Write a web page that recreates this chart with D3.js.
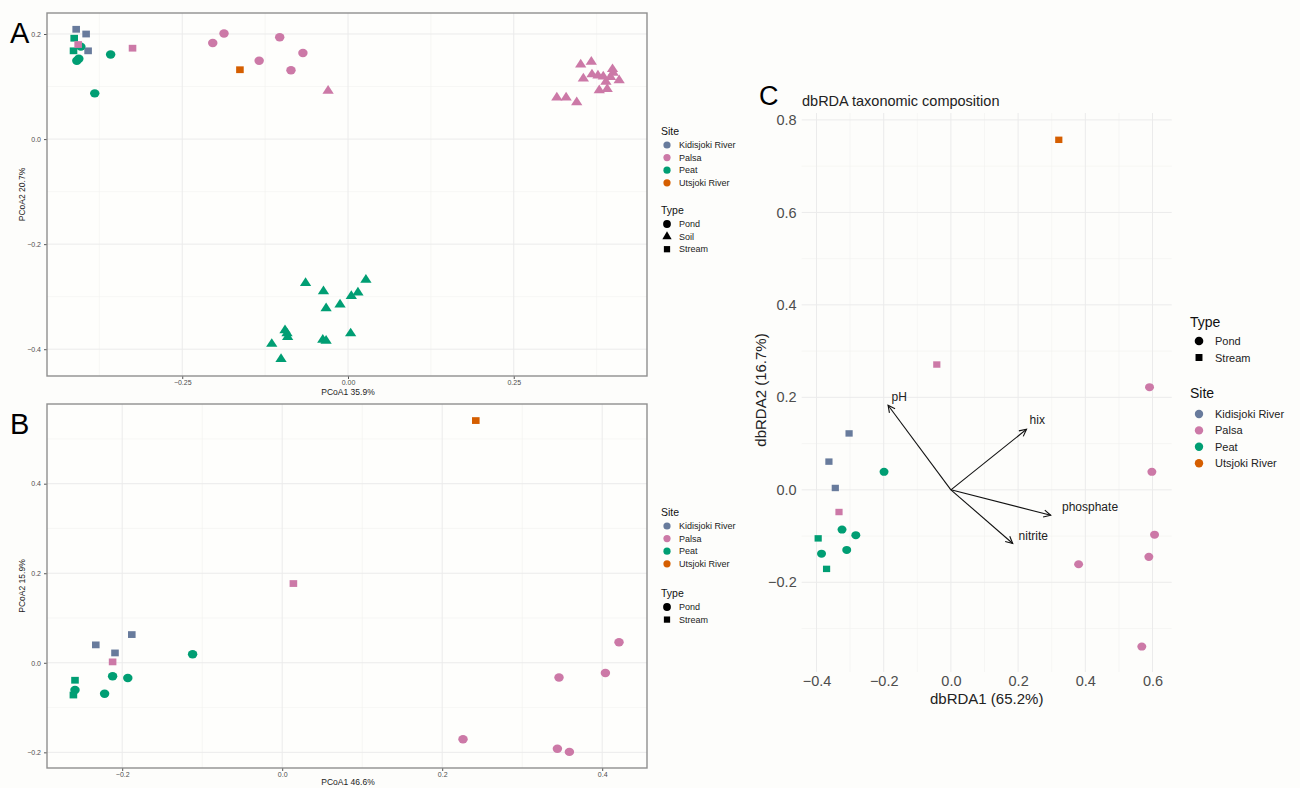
<!DOCTYPE html>
<html><head><meta charset="utf-8">
<script src="https://cdn.jsdelivr.net/npm/d3@7"></script>
<style>
body{margin:0;background:#fdfdfb;}
svg{display:block;font-family:"Liberation Sans",Arial,sans-serif;}
</style></head>
<body><svg id="c" width="1300" height="788"></svg>
<script>
// ---------- data ----------
const siteNames = ["Kidisjoki River","Palsa","Peat","Utsjoki River"];
const siteColors = ["#687b9c","#cc79a7","#009e73","#d55e00"];
const typeNamesAB = ["Pond","Soil","Stream"];
const typeNamesC = ["Pond","Stream"];

// Panel A (PCoA, all samples)
const aX = [-0.413,-0.414,-0.410,-0.395,-0.392,-0.403,-0.409,-0.406,-0.358,-0.382,-0.407,-0.325,
  -0.204,-0.187,-0.134,-0.103,-0.068,-0.086,-0.163,-0.030,
  0.351,0.367,0.355,0.368,0.377,0.385,0.399,0.400,0.396,0.389,0.409,0.379,0.391,0.315,0.329,0.345,
  -0.064,-0.037,-0.033,-0.012,0.005,0.015,0.027,0.004,-0.095,-0.092,-0.091,-0.115,-0.101,-0.038,-0.033];
const aY = [0.192,0.168,0.209,0.200,0.168,0.176,0.149,0.153,0.161,0.087,0.180,0.173,
  0.183,0.201,0.149,0.194,0.164,0.131,0.132,0.092,
  0.142,0.147,0.115,0.123,0.121,0.119,0.133,0.126,0.118,0.109,0.112,0.093,0.095,0.079,0.079,0.070,
  -0.274,-0.290,-0.322,-0.315,-0.299,-0.292,-0.268,-0.370,-0.364,-0.370,-0.377,-0.390,-0.419,-0.382,-0.384];
const aSite = ["Peat","Peat","Kidisjoki River","Kidisjoki River","Kidisjoki River","Peat","Peat","Peat","Peat","Peat","Palsa","Palsa",
  "Palsa","Palsa","Palsa","Palsa","Palsa","Palsa","Utsjoki River","Palsa",
  "Palsa","Palsa","Palsa","Palsa","Palsa","Palsa","Palsa","Palsa","Palsa","Palsa","Palsa","Palsa","Palsa","Palsa","Palsa","Palsa",
  "Peat","Peat","Peat","Peat","Peat","Peat","Peat","Peat","Peat","Peat","Peat","Peat","Peat","Peat","Peat"];
const aType = ["Stream","Stream","Stream","Stream","Stream","Pond","Pond","Pond","Pond","Pond","Stream","Stream",
  "Pond","Pond","Pond","Pond","Pond","Pond","Stream","Soil",
  "Soil","Soil","Soil","Soil","Soil","Soil","Soil","Soil","Soil","Soil","Soil","Soil","Soil","Soil","Soil","Soil",
  "Soil","Soil","Soil","Soil","Soil","Soil","Soil","Soil","Soil","Soil","Soil","Soil","Soil","Soil","Soil"];

// Panel B (PCoA, water samples)
const bX = [-0.233,-0.209,-0.188,-0.212,0.014,-0.112,-0.259,-0.212,-0.193,-0.222,-0.259,-0.261,0.242,0.421,0.404,0.346,0.226,0.344,0.359];
const bY = [0.040,0.022,0.063,0.002,0.177,0.019,-0.061,-0.030,-0.034,-0.069,-0.039,-0.072,0.541,0.046,-0.023,-0.033,-0.171,-0.192,-0.199];
const bSite = ["Kidisjoki River","Kidisjoki River","Kidisjoki River","Palsa","Palsa","Peat","Peat","Peat","Peat","Peat","Peat","Peat",
  "Utsjoki River","Palsa","Palsa","Palsa","Palsa","Palsa","Palsa"];
const bType = ["Stream","Stream","Stream","Stream","Stream","Pond","Pond","Pond","Pond","Pond","Stream","Stream",
  "Stream","Pond","Pond","Pond","Pond","Pond","Pond"];

// Panel C (dbRDA)
const cX = [-0.303,-0.363,-0.344,-0.333,-0.042,-0.199,-0.324,-0.283,-0.385,-0.310,-0.395,-0.370,0.591,0.598,0.606,0.589,0.380,0.568,0.321];
const cY = [0.122,0.061,0.004,-0.048,0.271,0.039,-0.086,-0.098,-0.138,-0.130,-0.105,-0.171,0.222,0.039,-0.097,-0.145,-0.161,-0.339,0.757];
const cSite = ["Kidisjoki River","Kidisjoki River","Kidisjoki River","Palsa","Palsa","Peat","Peat","Peat","Peat","Peat","Peat","Peat",
  "Palsa","Palsa","Palsa","Palsa","Palsa","Palsa","Utsjoki River"];
const cType = ["Stream","Stream","Stream","Stream","Stream","Pond","Pond","Pond","Pond","Pond","Stream","Stream",
  "Pond","Pond","Pond","Pond","Pond","Pond","Stream"];

const envNames = ["pH","hix","phosphate","nitrite"];
const envX = [-0.187,0.225,0.297,0.184];
const envY = [0.183,0.131,-0.055,-0.116];
const envLabX = [-0.154,0.257,0.414,0.245];
const envLabY = [0.201,0.151,-0.037,-0.099];

// tick values
const aXTicks=[-0.25,0,0.25], aXMinor=[-0.375,-0.125,0.125,0.375];
const aYTicks=[-0.4,-0.2,0,0.2], aYMinor=[-0.3,-0.1,0.1];
const bXTicks=[-0.2,0,0.2,0.4], bXMinor=[-0.1,0.1,0.3];
const bYTicks=[-0.2,0,0.2,0.4], bYMinor=[-0.1,0.1,0.3,0.5];
const cXTicks=[-0.4,-0.2,0,0.2,0.4,0.6], cXMinor=[-0.3,-0.1,0.1,0.3,0.5];
const cYTicks=[-0.2,0,0.2,0.4,0.6,0.8], cYMinor=[-0.3,-0.1,0.1,0.3,0.5,0.7];

// ---------- drawing ----------
const svg = d3.select("#c");
svg.append("rect").attr("width",1300).attr("height",788).attr("fill","#fdfdfb");
const color = d3.scaleOrdinal(siteNames, siteColors);
const shapeMap = {Pond:d3.symbolCircle, Soil:d3.symbolTriangle, Stream:d3.symbolSquare};
const sizeMap = {Pond:56, Soil:44, Stream:46};

function drawPoints(g, xs, ys, sites, types, x, y, scaleF){
  g.selectAll("path.pt").data(xs.map((v,i)=>i)).join("path").attr("class","pt")
    .attr("d", i=>d3.symbol().type(shapeMap[types[i]]).size(sizeMap[types[i]]*scaleF)())
    .attr("transform", i=>`translate(${x(xs[i])},${y(ys[i])}) scale(1.12,1)`)
    .attr("fill", i=>color(sites[i]));
}

function grid(g, x, y, xMaj, xMin, yMaj, yMin){
  const [x0,x1]=x.range(), [y0,y1]=y.range();
  g.selectAll("line.gxm").data(xMin).join("line").attr("x1",d=>x(d)).attr("x2",d=>x(d)).attr("y1",y0).attr("y2",y1).attr("stroke","#f2f2f0").attr("stroke-width",0.6);
  g.selectAll("line.gym").data(yMin).join("line").attr("y1",d=>y(d)).attr("y2",d=>y(d)).attr("x1",x0).attr("x2",x1).attr("stroke","#f2f2f0").attr("stroke-width",0.6);
  g.selectAll("line.gx").data(xMaj).join("line").attr("class","gx").attr("x1",d=>x(d)).attr("x2",d=>x(d)).attr("y1",y0).attr("y2",y1).attr("stroke","#ebebeb").attr("stroke-width",1);
  g.selectAll("line.gy").data(yMaj).join("line").attr("class","gy").attr("y1",d=>y(d)).attr("y2",d=>y(d)).attr("x1",x0).attr("x2",x1).attr("stroke","#ebebeb").attr("stroke-width",1);
}

function pcoaPanel(opt){
  const x = d3.scaleLinear().domain(opt.xd).range([47,647]);
  const y = d3.scaleLinear().domain(opt.yd).range(opt.yr);
  const g = svg.append("g");
  g.append("rect").attr("x",47).attr("y",opt.yr[1]).attr("width",600).attr("height",opt.yr[0]-opt.yr[1]).attr("fill","#fefefc");
  grid(g.append("g"), x, y, opt.xt, opt.xm, opt.yt, opt.ym);
  const ax = g.append("g").attr("transform",`translate(0,${opt.yr[0]})`)
    .call(d3.axisBottom(x).tickValues(opt.xt).tickSize(3).tickPadding(1).tickFormat(opt.xf));
  const ay = g.append("g").attr("transform",`translate(47,0)`)
    .call(d3.axisLeft(y).tickValues(opt.yt).tickSize(3).tickFormat(d3.format(".1f")));
  [ax,ay].forEach(a=>{a.select(".domain").remove();a.selectAll("line").attr("stroke","#555");
    a.selectAll("text").attr("fill","#4d4d4d").attr("font-size",7).attr("font-family","Liberation Sans, Arial");});
  drawPoints(g.append("g"), opt.px, opt.py, opt.ps, opt.pt, x, y, 1);
  g.append("rect").attr("x",47).attr("y",opt.yr[1]).attr("width",600).attr("height",opt.yr[0]-opt.yr[1])
    .attr("fill","none").attr("stroke","#8f8f8f").attr("stroke-width",1.4);
  g.append("text").attr("x",348).attr("y",opt.yr[0]+opt.titleDY).attr("text-anchor","middle").attr("font-size",8.5).attr("fill","#222").text(opt.xtitle);
  g.append("text").attr("transform",`translate(25,${(opt.yr[0]+opt.yr[1])/2}) rotate(-90)`).attr("text-anchor","middle").attr("font-size",8.5).attr("fill","#222").text(opt.ytitle);
  g.append("text").attr("x",10).attr("y",opt.yr[1]+30).attr("font-size",29).attr("fill","#000").text(opt.letter);
  // legend
  const lg = g.append("g");
  let ly = opt.legY;
  lg.append("text").attr("x",661).attr("y",ly+4).attr("font-size",10.5).attr("fill","#111").text("Site");
  siteNames.forEach((s,i)=>{
    const yy = ly+14+i*12.6;
    lg.append("circle").attr("cx",667).attr("cy",yy).attr("r",3.6).attr("fill",color(s));
    lg.append("text").attr("x",679).attr("y",yy+3.2).attr("font-size",9).attr("fill","#222").text(s);
  });
  ly += opt.typeDY;
  lg.append("text").attr("x",661).attr("y",ly+4).attr("font-size",10.5).attr("fill","#111").text("Type");
  opt.types.forEach((t,i)=>{
    const yy = ly+14+i*12.6;
    lg.append("path").attr("d",d3.symbol().type(shapeMap[t]).size(sizeMap[t]*0.85)()).attr("transform",`translate(667,${yy})`).attr("fill","#000");
    lg.append("text").attr("x",679).attr("y",yy+3.2).attr("font-size",9).attr("fill","#222").text(t);
  });
}

pcoaPanel({xd:[-0.454,0.451], yd:[-0.451,0.24], yr:[376,13], xt:aXTicks, xm:aXMinor, yt:aYTicks, ym:aYMinor,
  xf:d3.format(".2f"), px:aX, py:aY, ps:aSite, pt:aType, xtitle:"PCoA1 35.9%", ytitle:"PCoA2 20.7%", letter:"A",
  legY:131, typeDY:79, types:typeNamesAB, titleDY:18.5});
pcoaPanel({xd:[-0.294,0.456], yd:[-0.235,0.578], yr:[768,404], xt:bXTicks, xm:bXMinor, yt:bYTicks, ym:bYMinor,
  xf:d3.format(".1f"), px:bX, py:bY, ps:bSite, pt:bType, xtitle:"PCoA1 46.6%", ytitle:"PCoA2 15.9%", letter:"B",
  legY:512, typeDY:81, types:typeNamesC, titleDY:17});

// Panel C
(function(){
  const x = d3.scaleLinear().domain([-0.444,0.657]).range([801.7,1171.7]);
  const y = d3.scaleLinear().domain([-0.394,0.815]).range([672,113]);
  const g = svg.append("g");
  grid(g.append("g"), x, y, cXTicks, cXMinor, cYTicks, cYMinor);
  const ax = g.append("g").attr("transform","translate(0,672)").call(d3.axisBottom(x).tickValues(cXTicks).tickSize(0).tickFormat(d3.format(".1f")));
  const ay = g.append("g").attr("transform","translate(801.7,0)").call(d3.axisLeft(y).tickValues(cYTicks).tickSize(0).tickFormat(d3.format(".1f")));
  [ax,ay].forEach(a=>{a.select(".domain").remove();
    a.selectAll("text").attr("fill","#4d4d4d").attr("font-size",14.5).attr("font-family","Liberation Sans, Arial");});
  ax.selectAll("text").attr("dy","0.71em").attr("y",4);
  ay.selectAll("text").attr("x",-5);
  // arrows
  const defs = svg.append("defs");
  defs.append("marker").attr("id","ah").attr("viewBox","-8 -5 10 10").attr("refX",0).attr("refY",0)
    .attr("markerWidth",10).attr("markerHeight",10).attr("markerUnits","userSpaceOnUse").attr("orient","auto")
    .append("path").attr("d","M-7,-3.5 L0,0 L-7,3.5").attr("fill","none").attr("stroke","#111").attr("stroke-width",1.1);
  drawPoints(g.append("g"), cX, cY, cSite, cType, x, y, 0.9);
  envNames.forEach((n,i)=>{
    g.append("line").attr("x1",x(0)).attr("y1",y(0)).attr("x2",x(envX[i])).attr("y2",y(envY[i]))
      .attr("stroke","#111").attr("stroke-width",1.1).attr("marker-end","url(#ah)");
    g.append("text").attr("x",x(envLabX[i])).attr("y",y(envLabY[i])).attr("dy","0.35em").attr("text-anchor","middle")
      .attr("font-size",12).attr("fill","#222").text(n);
  });
  g.append("text").attr("x",986.7).attr("y",704).attr("text-anchor","middle").attr("font-size",15).attr("fill","#222").text("dbRDA1 (65.2%)");
  g.append("text").attr("transform","translate(766,390) rotate(-90)").attr("text-anchor","middle").attr("font-size",15).attr("fill","#222").text("dbRDA2 (16.7%)");
  g.append("text").attr("x",802).attr("y",106).attr("font-size",14.5).attr("fill","#222").text("dbRDA taxonomic composition");
  g.append("text").attr("x",759).attr("y",105).attr("font-size",27).attr("fill","#000").text("C");
  // legend
  const lg = g.append("g");
  lg.append("text").attr("x",1190).attr("y",327).attr("font-size",14).attr("fill","#111").text("Type");
  typeNamesC.forEach((t,i)=>{
    const yy = 341+i*16.5;
    lg.append("path").attr("d",d3.symbol().type(shapeMap[t]).size(sizeMap[t]*1.05)()).attr("transform",`translate(1199,${yy})`).attr("fill","#000");
    lg.append("text").attr("x",1215).attr("y",yy+4).attr("font-size",11).attr("fill","#222").text(t);
  });
  lg.append("text").attr("x",1190).attr("y",398).attr("font-size",14).attr("fill","#111").text("Site");
  siteNames.forEach((s,i)=>{
    const yy = 414+i*16.4;
    lg.append("circle").attr("cx",1199).attr("cy",yy).attr("r",4.2).attr("fill",color(s));
    lg.append("text").attr("x",1215).attr("y",yy+4).attr("font-size",11).attr("fill","#222").text(s);
  });
})();
</script></body></html>
